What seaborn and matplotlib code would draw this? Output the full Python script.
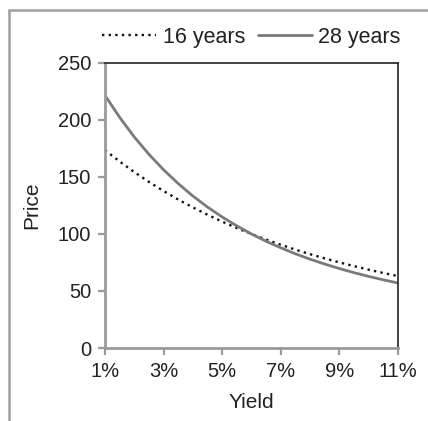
import matplotlib
matplotlib.use("Agg")
import matplotlib.pyplot as plt
from matplotlib.lines import Line2D
import seaborn as sns
import pandas as pd

# Bond price versus yield for two maturities (6% annual coupon, par 100)
yields = [1.0, 1.5, 2.0, 2.5, 3.0, 3.5, 4.0, 4.5, 5.0, 5.5, 6.0,
          6.5, 7.0, 7.5, 8.0, 8.5, 9.0, 9.5, 10.0, 10.5, 11.0]
price_16y = [173.6, 163.6, 154.3, 145.7, 137.7, 130.2, 123.3, 116.9, 110.8, 105.2, 100.0,
             95.1, 90.6, 86.3, 82.3, 78.6, 75.1, 71.8, 68.7, 65.8, 63.1]
price_28y = [221.6, 202.3, 185.1, 169.9, 156.3, 144.2, 133.3, 123.6, 114.9, 107.1, 100.0,
             93.6, 87.9, 82.6, 77.9, 73.6, 69.7, 66.1, 62.8, 59.8, 57.0]
series_names = ["16 years", "28 years"]
x_ticks = [1, 3, 5, 7, 9, 11]
x_tick_labels = ["1%", "3%", "5%", "7%", "9%", "11%"]
y_ticks = [0, 50, 100, 150, 200, 250]

df = pd.DataFrame({
    "Yield": yields * 2,
    "Price": price_16y + price_28y,
    "Maturity": [series_names[0]] * len(yields) + [series_names[1]] * len(yields),
})

sns.set_theme(style="white")
plt.rcParams["font.family"] = ["Liberation Sans", "DejaVu Sans"]

fig = plt.figure(figsize=(4.28, 4.21), dpi=100)
ax = fig.add_axes([105 / 428, 1 - 348 / 421, 293 / 428, 285 / 421])

grey = "#9a9a9a"
sns.lineplot(data=df, x="Yield", y="Price", hue="Maturity", style="Maturity",
             palette={"16 years": "#111111", "28 years": "#7a7a7a"},
             dashes={"16 years": (1, 1.8), "28 years": ""},
             ax=ax, legend=False)
ax.lines[0].set_linewidth(1.7)
ax.lines[1].set_linewidth(2.0)

ax.set_xlim(1, 11)
ax.set_ylim(0, 250)
ax.set_xticks(x_ticks)
ax.set_xticklabels(x_tick_labels)
ax.set_yticks(y_ticks)
ax.set_xlabel("Yield", fontsize=15, color="#222222", labelpad=9)
ax.set_ylabel("Price", fontsize=15, color="#222222", labelpad=12)

ax.tick_params(axis="both", which="both", direction="out", length=5, width=1.6,
               color=grey, labelsize=14.5, labelcolor="#222222", pad=5)
ax.tick_params(left=True, bottom=True)
for side in ("left", "bottom"):
    ax.spines[side].set_color(grey)
    ax.spines[side].set_linewidth(2.0)
for side in ("top", "right"):
    ax.spines[side].set_color("#222222")
    ax.spines[side].set_linewidth(1.2)
    ax.spines[side].set_visible(True)
ax.grid(False)

handles = [
    Line2D([], [], color="#111111", linestyle=(0, (1, 1.8)), linewidth=1.7),
    Line2D([], [], color="#7a7a7a", linestyle="-", linewidth=2.0),
]
ax.legend(handles, series_names, loc="lower center", bbox_to_anchor=(0.5, 1.024),
          ncol=2, frameon=False, fontsize=15.5, handlelength=2.5, handletextpad=0.3,
          columnspacing=0.6, borderaxespad=0.0, labelcolor="#222222")

# partial outer frame (top and left edges)
fig.add_artist(Line2D([9 / 428, 9 / 428], [0, 1 - 10 / 421], transform=fig.transFigure,
                      color="#a0a0a0", linewidth=1.8))
fig.add_artist(Line2D([9 / 428, 1], [1 - 10 / 421, 1 - 10 / 421], transform=fig.transFigure,
                      color="#a0a0a0", linewidth=1.8))

fig.savefig("out.png", dpi=100, facecolor="white")
